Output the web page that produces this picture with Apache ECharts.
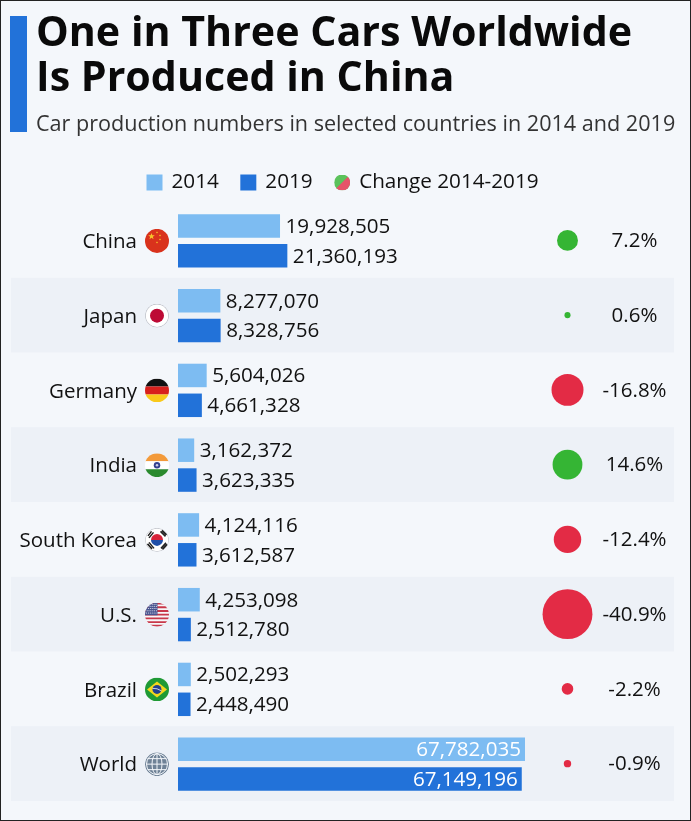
<!DOCTYPE html>
<html><head><meta charset="utf-8">
<style>
html,body{margin:0;padding:0;background:#f4f7fb}
#frame{position:absolute;left:0;top:0;width:691px;height:821px;box-sizing:border-box;border:1.5px solid #222;pointer-events:none;z-index:5}
#c{position:absolute;left:0;top:0;width:691px;height:821px}
</style>
<script src="https://cdn.jsdelivr.net/npm/echarts@6/dist/echarts.min.js"></script>
</head><body><div id="c"></div><div id="frame"></div>
<script>
const categories = ['China','Japan','Germany','India','South Korea','U.S.','Brazil','World'];
const values2014 = [19928505,8277070,5604026,3162372,4124116,4253098,2502293,67782035];
const values2019 = [21360193,8328756,4661328,3623335,3612587,2512780,2448490,67149196];
const changes = [7.2,0.6,-16.8,14.6,-12.4,-40.9,-2.2,-0.9];
const changeLabels = ['7.2%','0.6%','-16.8%','14.6%','-12.4%','-40.9%','-2.2%','-0.9%'];
const titleText = 'One in Three Cars Worldwide\nIs Produced in China';
const subtitleText = 'Car production numbers in selected countries in 2014 and 2019';

const FONT = '"Open Sans"';
const INK = '#111111';
const LIGHT = '#7dbcf2', DARK = '#2272d9', GREEN = '#35b534', RED = '#e32b45';

const svg = s => 'data:image/svg+xml;charset=utf-8,' + encodeURIComponent(
  '<svg xmlns="http://www.w3.org/2000/svg" viewBox="0 0 48 48" width="96" height="96"><defs><clipPath id="k"><circle cx="24" cy="24" r="24"/></clipPath></defs><g clip-path="url(#k)">' + s + '</g></svg>');
const star = (x,y,r,c) => { let p=[]; for(let i=0;i<10;i++){const a=-Math.PI/2+i*Math.PI/5,q=i%2?r*0.4:r;p.push((x+q*Math.cos(a)).toFixed(1)+','+(y+q*Math.sin(a)).toFixed(1));} return `<polygon points="${p.join(' ')}" fill="${c}"/>`; };
let usStripes=''; for(let i=0;i<7;i++) usStripes+=`<rect x="0" y="${i*7.4}" width="48" height="3.7" fill="#c8384a"/>`;
let usDots=''; for(let r=0;r<5;r++) for(let c=0;c<6;c++) usDots+=`<circle cx="${3+c*3.8+(r%2)*1.2}" cy="${3+r*4.4}" r="1" fill="#fff"/>`;
let globe='<circle cx="24" cy="24" r="24" fill="#6f8296"/><g fill="none" stroke="#f4f7fb" stroke-width="2"><circle cx="24" cy="24" r="21"/><ellipse cx="24" cy="24" rx="10" ry="21"/><path d="M24 2V46M2 24H46M5 13H43M5 35H43"/></g>';
const flags = {
 'China': svg('<rect width="48" height="48" fill="#d9321c"/>'+star(13,15,7,'#f7c52b')+star(24,7,2.4,'#f7c52b')+star(30,13,2.4,'#f7c52b')+star(30,21,2.4,'#f7c52b')+star(24,27,2.4,'#f7c52b')),
 'Japan': svg('<circle cx="24" cy="24" r="24" fill="#b9bcc4"/><circle cx="24" cy="24" r="22.5" fill="#fff"/><circle cx="24" cy="24" r="14" fill="#bd0a35"/>'),
 'Germany': svg('<rect width="48" height="16" fill="#111"/><rect y="16" width="48" height="16" fill="#d8201c"/><rect y="32" width="48" height="16" fill="#f9c91a"/>'),
 'India': svg('<rect width="48" height="16" fill="#f39a3a"/><rect y="16" width="48" height="16" fill="#fff"/><rect y="32" width="48" height="16" fill="#2a8a2e"/><circle cx="24" cy="24" r="6.5" fill="#34408f"/><circle cx="24" cy="24" r="2.5" fill="#c9cdea"/>'),
 'South Korea': svg('<circle cx="24" cy="24" r="24" fill="#c5c8ce"/><circle cx="24" cy="24" r="22.5" fill="#fff"/><path d="M12 24a12 12 0 0 1 24 0z" fill="#d8243a"/><path d="M12 24a12 12 0 0 0 24 0z" fill="#1f4fa8"/><g stroke="#222" stroke-width="3"><path d="M6 16L13 7M8 20L17 9M31 7L41 17M34 5L43 14M5 32L14 42M8 29L18 41M32 41L42 30M35 43L44 33"/></g>'),
 'U.S.': svg('<rect width="48" height="48" fill="#f7f7f9"/>'+usStripes+'<rect width="25" height="25" fill="#4a5590"/>'+usDots),
 'Brazil': svg('<rect width="48" height="48" fill="#1f9a35"/><polygon points="24,8 44,24 24,40 4,24" fill="#f4d71c"/><circle cx="24" cy="24" r="9" fill="#24408f"/><path d="M15 22Q24 21 33 27" stroke="#fff" stroke-width="1.5" fill="none"/>'),
 'World': svg(globe)
};
const changeIcon = 'image://' + svg('<rect width="48" height="48" fill="#35b534"/><polygon points="48,0 48,48 0,48" fill="#e32b45"/>');

const rich = { n:{fontFamily:FONT,fontSize:20.5,color:INK,padding:[3,8,0,0]} };
categories.forEach((c,i)=>{ rich['f'+i]={width:24,height:24,backgroundColor:{image:flags[c]}}; });

const barData = arr => arr.map((v,i)=> i===categories.length-1
  ? {value:v,label:{position:'insideRight',color:'#fff',distance:4}} : v);
const barLabel = {show:true,position:'right',distance:5.5,offset:[0,1],fontFamily:FONT,fontSize:20.6,color:INK,
  formatter:p=>p.value.toLocaleString('en-US')};

const option = {
  animation:false,
  backgroundColor:'#f4f7fb',
  title:[
    {text:titleText,left:36,top:12,padding:0,textStyle:{fontFamily:FONT,fontWeight:'bold',fontSize:41.2,lineHeight:45,color:'#0a0a0a'}},
    {text:subtitleText,left:36,top:114,padding:0,textStyle:{fontFamily:FONT,fontWeight:'normal',fontSize:21.6,color:'#333333'}}
  ],
  graphic:[{type:'rect',left:10,top:16,shape:{width:17,height:116},style:{fill:'#2272d9'}}],
  legend:{left:146.5,top:172,padding:0,itemGap:21.5,itemWidth:16,itemHeight:16,
    textStyle:{fontFamily:FONT,fontSize:20.7,color:INK,padding:[0,0,0,4]},
    data:[{name:'2014',icon:'rect'},{name:'2019',icon:'rect'},{name:'Change 2014-2019',icon:changeIcon}]},
  grid:[
    {left:178,top:203.5,width:347,height:598},
    {left:534,top:203,width:134,height:598},
    {left:11,top:203,width:663,height:598}
  ],
  xAxis:[
    {gridIndex:0,type:'value',min:0,max:67782035,show:false},
    {gridIndex:1,type:'category',data:['bubble','pct'],show:false},
    {gridIndex:2,type:'value',show:false}
  ],
  yAxis:[
    {gridIndex:0,type:'category',inverse:true,data:categories,
     axisLine:{show:false},axisTick:{show:false},
     axisLabel:{margin:9,interval:0,rich,
       formatter:(v,i)=>`{n|${v}}{f${i}|}`}},
    {gridIndex:1,type:'category',inverse:true,data:categories,show:false},
    {gridIndex:2,type:'category',inverse:true,data:categories,
     axisLine:{show:false},axisTick:{show:false},axisLabel:{show:false},
     splitLine:{show:false},
     splitArea:{show:true,interval:0,areaStyle:{color:['rgba(0,0,0,0)','#edf1f7']}}}
  ],
  series:[
    {name:'2014',type:'bar',xAxisIndex:0,yAxisIndex:0,barWidth:23.5,barGap:'27%',
     itemStyle:{color:LIGHT},label:barLabel,data:barData(values2014)},
    {name:'2019',type:'bar',xAxisIndex:0,yAxisIndex:0,barWidth:23.5,barGap:'27%',
     itemStyle:{color:DARK},label:barLabel,data:barData(values2019)},
    {name:'Change 2014-2019',type:'scatter',xAxisIndex:1,yAxisIndex:1,
     symbolSize:p=>Math.sqrt(Math.abs(p[2]))*7.8,
     data:changes.map((v,i)=>({value:['bubble',categories[i],v],itemStyle:{color:v>=0?GREEN:RED,opacity:1}}))},
    {name:'pct',type:'scatter',xAxisIndex:1,yAxisIndex:1,symbolSize:0,itemStyle:{opacity:1},
     label:{show:true,position:'inside',offset:[0,1],opacity:1,fontFamily:FONT,fontSize:20.5,color:INK,
       formatter:p=>changeLabels[p.dataIndex]},
     data:categories.map(c=>['pct',c])}
  ]
};
const chart = echarts.init(document.getElementById('c'),null,{renderer:'canvas'});
chart.setOption(option);
</script></body></html>
